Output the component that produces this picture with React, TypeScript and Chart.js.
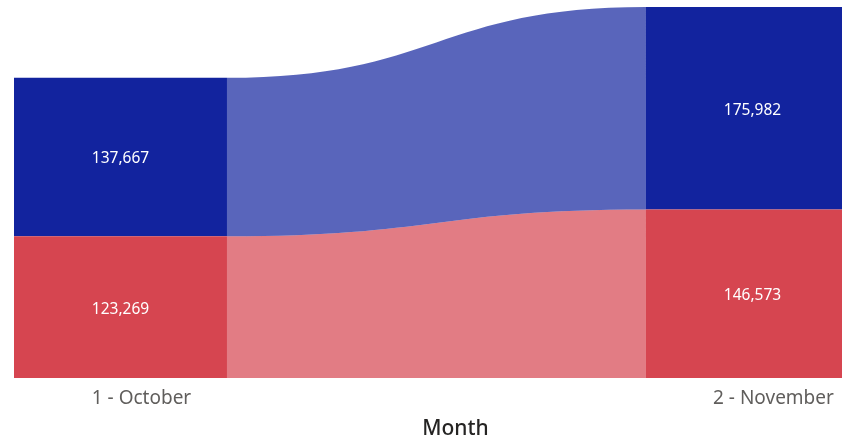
import React, { useEffect, useRef } from "react";
import { Chart, registerables } from "chart.js";

Chart.register(...registerables);

const categories: string[] = ["1 - October", "2 - November"];
const seriesNames: string[] = ["Blue", "Red"];
const redValues: number[] = [123269, 146573];
const blueValues: number[] = [137667, 175982];
const barColors: string[] = ["#D64550", "#12239E"];
const ribbonColors: string[] = ["rgba(214,69,80,0.7)", "rgba(18,35,158,0.7)"];

const FONT = "'Noto Sans', 'Open Sans', sans-serif";

const ribbonPlugin = {
  id: "ribbons",
  beforeDatasetsDraw(chart: any) {
    const ctx = chart.ctx;
    ctx.save();
    chart.data.datasets.forEach((ds: any, i: number) => {
      const meta = chart.getDatasetMeta(i);
      const a = meta.data[0] as any;
      const b = meta.data[1] as any;
      if (!a || !b) return;
      const x1 = a.x + a.width / 2;
      const x2 = b.x - b.width / 2;
      const mid = (x1 + x2) / 2;
      const t1 = Math.min(a.y, a.base), b1 = Math.max(a.y, a.base);
      const t2 = Math.min(b.y, b.base), b2 = Math.max(b.y, b.base);
      ctx.beginPath();
      ctx.moveTo(x1, t1);
      ctx.bezierCurveTo(mid, t1, mid, t2, x2, t2);
      ctx.lineTo(x2, b2);
      ctx.bezierCurveTo(mid, b2, mid, b1, x1, b1);
      ctx.closePath();
      ctx.fillStyle = ribbonColors[i];
      ctx.fill();
    });
    ctx.restore();
  },
  afterDatasetsDraw(chart: any) {
    const ctx = chart.ctx;
    ctx.save();
    ctx.font = `15.5px ${FONT}`;
    ctx.fillStyle = "#ffffff";
    ctx.textAlign = "center";
    ctx.textBaseline = "middle";
    chart.data.datasets.forEach((ds: any, i: number) => {
      const meta = chart.getDatasetMeta(i);
      meta.data.forEach((el: any, j: number) => {
        const v = ds.data[j].y as number;
        const cy = (el.y + el.base) / 2 + 2;
        ctx.fillText(v.toLocaleString("en-US"), el.x, cy);
      });
    });
    ctx.restore();
  },
};

export default function App() {
  const ref = useRef<HTMLCanvasElement | null>(null);
  useEffect(() => {
    if (!ref.current) return;
    const totals = categories.map((_, j) => redValues[j] + blueValues[j]);
    const chart = new Chart(ref.current, {
      type: "bar",
      data: {
        datasets: [
          {
            label: seriesNames[1],
            data: redValues.map((v, j) => ({ x: j, y: v })),
            backgroundColor: barColors[0],
            barPercentage: 0.337,
            categoryPercentage: 1,
          },
          {
            label: seriesNames[0],
            data: blueValues.map((v, j) => ({ x: j, y: v })),
            backgroundColor: barColors[1],
            barPercentage: 0.337,
            categoryPercentage: 1,
          },
        ] as any,
      },
      options: {
        animation: false,
        responsive: true,
        maintainAspectRatio: false,
        layout: { padding: { left: 14, top: 7, right: 0, bottom: 0 } },
        plugins: { legend: { display: false }, tooltip: { enabled: false } },
        scales: {
          x: {
            type: "linear",
            stacked: true,
            offset: false,
            min: -0.1685,
            max: 1.2287,
            grid: { display: false },
            border: { display: false },
            afterBuildTicks: (scale: any) => {
              scale.ticks = categories.map((_, j) => ({ value: j }));
            },
            afterFit: (scale: any) => {
              scale.height = 66;
            },
            ticks: {
              autoSkip: false,
              maxRotation: 0,
              labelOffset: 21,
              padding: 1,
              color: "#605E5C",
              font: { family: FONT, size: 19 },
              callback: (v: any) => categories[Math.round(Number(v))] ?? "",
            },
            title: {
              display: true,
              text: "Month",
              color: "#252423",
              font: { family: FONT, size: 21, weight: 500 as any },
              padding: { top: 0, bottom: 2 },
            },
          },
          y: {
            display: false,
            stacked: true,
            min: 0,
            max: Math.max(...totals),
          },
        },
      },
      plugins: [ribbonPlugin],
    });
    return () => chart.destroy();
  }, []);
  return (
    <div style={{ position: "absolute", left: 0, top: 0, width: 842, height: 444, overflow: "hidden", background: "#fff" }}>
      <div style={{ position: "relative", width: 897, height: 444 }}>
        <canvas ref={ref} />
      </div>
    </div>
  );
}
